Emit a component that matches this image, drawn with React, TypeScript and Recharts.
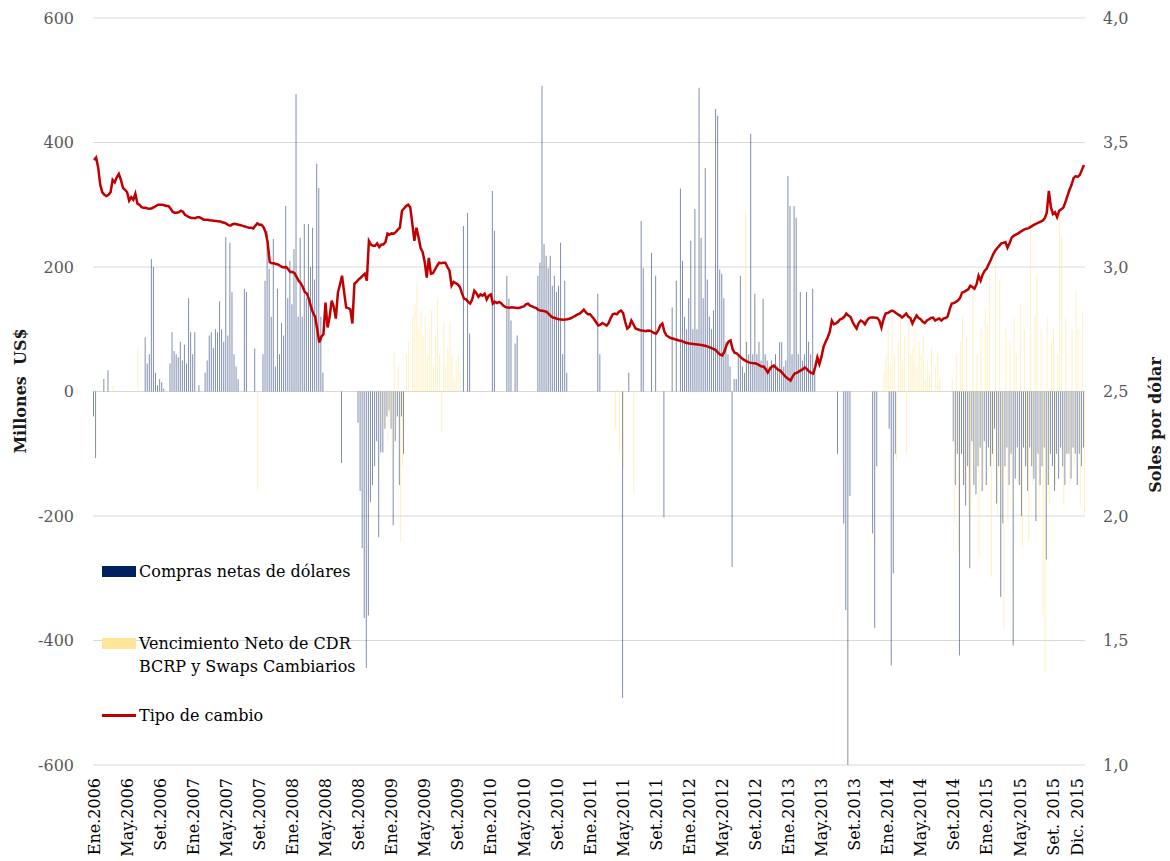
import { Bar, CartesianGrid, ComposedChart, Line, XAxis, YAxis } from "recharts";

// cuatro observaciones por mes (aprox. semanales), Ene.2006 - Dic.2015

const tc2006 = [
  3.43, 3.44, 3.40, 3.33, 3.30, 3.29, 3.285, 3.29, 3.30, 3.35, 3.34, 3.36,
  3.374, 3.35, 3.318, 3.31, 3.30, 3.266, 3.28, 3.27, 3.294, 3.254, 3.25, 3.24,
  3.238, 3.238, 3.235, 3.234, 3.236, 3.24, 3.245, 3.25, 3.25, 3.25, 3.248, 3.245,
  3.245, 3.235, 3.222, 3.218, 3.218, 3.22, 3.226, 3.222, 3.21, 3.205, 3.2, 3.197,
];
const tc2007 = [
  3.197, 3.196, 3.2, 3.2, 3.195, 3.19, 3.19, 3.19, 3.188, 3.187, 3.186, 3.185,
  3.184, 3.183, 3.18, 3.178, 3.174, 3.168, 3.166, 3.172, 3.174, 3.172, 3.17, 3.168,
  3.165, 3.163, 3.16, 3.158, 3.158, 3.155, 3.165, 3.175, 3.17, 3.17, 3.16, 3.14,
  3.10, 3.02, 3.015, 3.015, 3.012, 3.01, 3.005, 3.0, 2.998, 3.0, 2.99, 2.98,
];
const tc2008 = [
  2.98, 2.975, 2.96, 2.945, 2.935, 2.92, 2.90, 2.893, 2.87, 2.84, 2.815, 2.80,
  2.75, 2.697, 2.72, 2.73, 2.857, 2.757, 2.80, 2.865, 2.84, 2.793, 2.897, 2.93,
  2.965, 2.90, 2.837, 2.835, 2.83, 2.773, 2.933, 2.94, 2.95, 2.957, 2.965, 2.973,
  2.945, 3.105, 3.09, 3.085, 3.085, 3.095, 3.08, 3.09, 3.09, 3.10, 3.134, 3.13,
];
const tc2009 = [
  3.135, 3.134, 3.14, 3.15, 3.158, 3.226, 3.235, 3.245, 3.25, 3.24, 3.174, 3.105,
  3.158, 3.12, 3.077, 3.06, 3.02, 2.957, 3.037, 2.973, 2.975, 2.99, 3.005, 3.017,
  3.015, 3.017, 3.017, 3.0, 2.985, 2.925, 2.94, 2.935, 2.93, 2.92, 2.895, 2.873,
  2.87, 2.86, 2.853, 2.87, 2.905, 2.895, 2.88, 2.89, 2.885, 2.893, 2.87, 2.885,
];
const tc2010 = [
  2.89, 2.853, 2.86, 2.855, 2.86, 2.855, 2.845, 2.84, 2.837, 2.836, 2.838, 2.837,
  2.836, 2.835, 2.836, 2.84, 2.842, 2.85, 2.853, 2.845, 2.842, 2.838, 2.835, 2.828,
  2.825, 2.824, 2.822, 2.82, 2.812, 2.803, 2.797, 2.795, 2.792, 2.79, 2.789, 2.788,
  2.789, 2.79, 2.792, 2.795, 2.80, 2.805, 2.81, 2.813, 2.82, 2.829, 2.818, 2.81,
];
const tc2011 = [
  2.81, 2.80, 2.79, 2.777, 2.765, 2.768, 2.775, 2.77, 2.765, 2.775, 2.795, 2.81,
  2.813, 2.81, 2.82, 2.825, 2.815, 2.78, 2.753, 2.76, 2.785, 2.77, 2.753, 2.75,
  2.747, 2.745, 2.744, 2.742, 2.745, 2.744, 2.74, 2.735, 2.733, 2.745, 2.765, 2.773,
  2.74, 2.725, 2.72, 2.715, 2.713, 2.71, 2.708, 2.705, 2.704, 2.70, 2.697, 2.695,
];
const tc2012 = [
  2.693, 2.692, 2.691, 2.69, 2.689, 2.688, 2.687, 2.685, 2.683, 2.68, 2.677, 2.673,
  2.67, 2.665, 2.655, 2.648, 2.645, 2.66, 2.685, 2.70, 2.705, 2.67, 2.655, 2.653,
  2.645, 2.637, 2.63, 2.625, 2.62, 2.617, 2.615, 2.613, 2.613, 2.61, 2.605, 2.60,
  2.60, 2.59, 2.576, 2.59, 2.60, 2.604, 2.595, 2.588, 2.584, 2.575, 2.565, 2.556,
];
const tc2013 = [
  2.55, 2.544, 2.56, 2.572, 2.575, 2.58, 2.585, 2.59, 2.596, 2.59, 2.58, 2.575,
  2.572, 2.60, 2.637, 2.61, 2.64, 2.68, 2.70, 2.717, 2.74, 2.785, 2.77, 2.773,
  2.78, 2.79, 2.793, 2.80, 2.813, 2.805, 2.80, 2.78, 2.765, 2.753, 2.775, 2.785,
  2.78, 2.77, 2.785, 2.795, 2.797, 2.797, 2.796, 2.795, 2.785, 2.757, 2.79, 2.813,
];
const tc2014 = [
  2.815, 2.82, 2.825, 2.822, 2.815, 2.81, 2.805, 2.797, 2.805, 2.813, 2.80, 2.795,
  2.773, 2.79, 2.805, 2.795, 2.79, 2.78, 2.775, 2.785, 2.79, 2.795, 2.797, 2.785,
  2.79, 2.793, 2.785, 2.793, 2.795, 2.80, 2.83, 2.853, 2.855, 2.86, 2.865, 2.875,
  2.897, 2.90, 2.905, 2.91, 2.925, 2.92, 2.913, 2.93, 2.965, 2.945, 2.97, 2.985,
];
const tc2015 = [
  2.995, 3.013, 3.03, 3.05, 3.065, 3.075, 3.085, 3.095, 3.097, 3.10, 3.077, 3.095,
  3.118, 3.125, 3.13, 3.134, 3.14, 3.145, 3.15, 3.154, 3.155, 3.16, 3.165, 3.17,
  3.174, 3.178, 3.182, 3.186, 3.195, 3.218, 3.306, 3.24, 3.213, 3.22, 3.20, 3.226,
  3.232, 3.238, 3.26, 3.286, 3.31, 3.33, 3.358, 3.365, 3.362, 3.37, 3.39, 3.41,
];

const compras2006 = [
  -40, -107, 0, 0, 0, 20, 0, 34, 0, 0, 0, 0,
  0, 0, 0, 0, 0, 0, 0, 0, 0, 0, 0, 0,
  0, 87, 45, 60, 213, 200, 30, 10, 20, 15, 5, 0,
  0, 45, 95, 65, 60, 55, 80, 50, 75, 45, 150, 95,
];
const compras2007 = [
  60, 95, 0, 10, 0, 0, 30, 50, 90, 95, 70, 100,
  95, 145, 100, 80, 248, 90, 239, 160, 60, 40, 20, 0,
  0, 165, 160, 0, 0, 0, 69, 0, 0, 0, 60, 178,
  258, 197, 120, 245, 40, 165, 60, 110, 90, 298, 150, 210,
];
const compras2008 = [
  140, 229, 478, 120, 247, 120, 269, 150, 269, 200, 263, 180,
  366, 327, 120, 30, 0, 0, 0, 0, 0, 0, 0, 0,
  -115, 0, 0, 0, 0, 0, 0, 0, -50, -160, -252, -364,
  -444, -360, -178, -150, -120, -80, -234, -98, -98, -60, -40, -30,
];
const compras2009 = [
  -60, -215, -80, -40, -150, -40, -100, 0, 0, 0, 0, 0,
  0, 0, 0, 0, 0, 0, 0, 0, 0, 0, 0, 0,
  0, 0, 0, 0, 0, 0, 0, 0, 0, 0, 0, 266,
  0, 287, 93, 0, 0, 0, 0, 0, 0, 0, 0, 0,
];
const compras2010 = [
  0, 322, 258, 0, 0, 0, 0, 0, 186, 149, 114, 0,
  77, 90, 0, 0, 0, 0, 0, 0, 0, 0, 0, 186,
  207, 491, 237, 218, 198, 218, 170, 186, 160, 170, 239, 60,
  178, 30, 0, 0, 0, 0, 0, 0, 0, 0, 0, 0,
];
const compras2011 = [
  0, 0, 0, 0, 157, 60, 0, 0, 0, 0, 0, 0,
  0, 0, 0, 0, -492, 0, 0, 30, 0, 0, 0, 0,
  0, 274, 198, 0, 0, 0, 223, 0, 186, 0, 0, 0,
  -202, 0, 0, 0, 135, 0, 178, 0, 326, 210, 120, 100,
];
const compras2012 = [
  150, 242, 100, 293, 100, 488, 247, 150, 359, 180, 120, 100,
  130, 454, 443, 196, 189, 150, 80, 60, 40, -282, 20, 20,
  60, 186, 40, 30, 80, 60, 414, 60, 157, 60, 80, 50,
  149, 60, 50, 40, 50, 40, 60, 40, 79, 79, 40, 50,
];
const compras2013 = [
  346, 298, 60, 298, 279, 60, 160, 50, 60, 160, 80, 60,
  165, 40, 0, 0, 0, 0, 0, 0, 0, 0, 0, 0,
  -100, 0, 0, -212, -351, -600, -168, 0, 0, 0, 0, 0,
  0, 0, 0, 0, 0, -228, -380, -120, 0, 0, 0, 0,
];
const compras2014 = [
  0, -60, -440, -292, -100, 0, 0, 0, 0, 0, 0, 0,
  0, 0, 0, 0, 0, 0, 0, 0, 0, 0, 0, 0,
  0, 0, 0, 0, 0, 0, 0, 0, -80, -150, -100, -424,
  -100, -150, -183, -120, -284, -80, -150, -165, -120, -90, -160, -80,
];
const compras2015 = [
  -150, -90, -120, -100, -60, -180, -120, -330, -212, -120, -90, -150,
  -100, -408, -140, -90, -150, -200, -90, -120, -160, -90, -120, -140,
  -208, -100, -150, -120, -90, -270, -150, -100, -120, -160, -100, -140,
  -90, -120, -150, -100, -100, -140, -90, -100, -150, -100, -120, -90,
];

const venc2006 = [
  0, 0, 0, 0, 0, 0, 0, 0, 0, 10, 0, 0,
  0, 0, 0, 0, 0, 0, 0, 0, 0, 70, 0, 0,
  0, 0, 0, 0, 0, 0, 0, 0, 0, 0, 0, 0,
  0, 0, 0, 0, 0, 0, 0, 0, 0, 0, 0, 0,
];
const venc2007 = [
  0, 0, 0, 0, 0, 0, 0, 0, 0, 0, 0, 0,
  0, 0, 0, 0, 0, 0, 0, 0, 0, 0, 0, 0,
  0, 0, 0, 0, 0, 0, 0, -158, 0, 0, 0, 0,
  0, 0, 0, 0, 0, 0, 0, 0, 0, 0, 0, 0,
];
const venc2008 = [
  0, 0, 0, 0, 0, 0, 0, 0, 0, 0, 0, 0,
  0, 0, 0, 0, 0, 0, 0, 0, 0, 0, 0, 0,
  0, 0, 0, 0, 0, 0, 0, 0, 0, 0, 0, 0,
  0, 0, 0, 0, 0, 0, -50, 0, -60, 0, -80, -40,
];
const venc2009 = [
  -100, 65, -60, 40, -242, -120, 0, 60, 80, 0, 120, 141,
  173, 100, 130, 90, 120, 60, 100, 130, 40, 90, 150, 60,
  -66, 110, 40, 70, 110, 60, 20, 50, 60, 30, 0, 0,
  0, 0, 0, 0, 0, 0, 0, 0, 0, 0, 0, 0,
];
const venc2010 = [
  0, 0, 0, 0, 0, 0, 0, 0, 0, 0, 0, 0,
  0, 0, 0, 0, 0, 0, 0, 0, 0, 0, 0, 0,
  0, 0, 0, 0, 0, 0, 0, 0, 0, 0, 0, 0,
  0, 0, 0, 0, 0, 0, 0, 0, 0, 0, 0, 0,
];
const venc2011 = [
  0, 0, 0, 0, 0, 0, 0, 0, 0, 0, 0, 0,
  -60, 0, -100, 0, -124, 0, 0, 0, 0, -162, 0, 0,
  0, 0, 0, 0, 0, 0, 0, 0, 0, 0, 0, 0,
  0, 0, 0, 0, 0, 0, 0, 0, 0, 0, 0, 0,
];
const venc2012 = [
  0, 0, 0, 0, 0, 0, 0, 0, 0, 0, 0, 0,
  0, 0, 0, 0, 0, 0, 0, 0, 0, 0, 0, 0,
  0, 0, 0, 287, 0, 0, 0, 0, 0, 0, 0, 0,
  0, 0, 0, 0, 0, 0, 0, 0, 0, 0, 0, 0,
];
const venc2013 = [
  0, 0, 0, 0, 0, 0, 0, 0, 0, 0, 0, 0,
  0, 0, 0, 0, 0, 0, 0, 0, 0, 0, 0, 0,
  0, 0, 0, 0, 0, 0, 0, 0, 0, 0, 0, 0,
  0, 0, 0, 0, 0, 0, 0, 0, 0, 0, 30, 60,
];
const venc2014 = [
  100, 40, 130, 60, -110, 80, 120, 50, 90, -100, 110, 60,
  70, 100, 40, 80, 60, 90, 20, 50, 30, 70, 0, 40,
  60, 20, 0, 0, 0, 0, 0, 20, -212, 60, -260, 80,
  120, -150, 90, -200, -180, 167, -120, 60, -268, 100, -150, 130,
];
const venc2015 = [
  109, 183, -298, -120, 210, -200, 178, -150, -380, 100, -214, 80,
  -180, 120, 60, -150, 141, -250, 100, -120, -240, 287, -150, 120,
  189, -200, 100, -359, -451, 120, -180, 80, 100, -150, 60, 285,
  250, -183, 120, -100, -150, 100, -120, 160, 100, -183, 130, -200,
];

const tipoCambio = [
  ...tc2006, ...tc2007, ...tc2008, ...tc2009, ...tc2010,
  ...tc2011, ...tc2012, ...tc2013, ...tc2014, ...tc2015,
];
const compras = [
  ...compras2006, ...compras2007, ...compras2008, ...compras2009, ...compras2010,
  ...compras2011, ...compras2012, ...compras2013, ...compras2014, ...compras2015,
];
const vencimientos = [
  ...venc2006, ...venc2007, ...venc2008, ...venc2009, ...venc2010,
  ...venc2011, ...venc2012, ...venc2013, ...venc2014, ...venc2015,
];

// etiquetas del eje X y el mes (desde Ene.2006) en que caen
const etiquetasMes = [
  "Ene.2006", "May.2006", "Set.2006", "Ene.2007", "May.2007", "Set.2007",
  "Ene.2008", "May.2008", "Set.2008", "Ene.2009", "May.2009", "Set.2009",
  "Ene.2010", "May.2010", "Set.2010", "Ene.2011", "May.2011", "Set.2011",
  "Ene.2012", "May.2012", "Set.2012", "Ene.2013", "May.2013", "Set.2013",
  "Ene.2014", "May.2014", "Set.2014", "Ene.2015", "May.2015", "Set. 2015",
  "Dic. 2015",
];
const mesesEtiqueta = [
  0, 4, 8, 12, 16, 20, 24, 28, 32, 36, 40, 44, 48, 52, 56, 60, 64, 68,
  72, 76, 80, 84, 88, 92, 96, 100, 104, 108, 112, 116, 119,
];

const ticksIzq = [-600, -400, -200, 0, 200, 400, 600];
const ticksDer = [1, 1.5, 2, 2.5, 3, 3.5, 4];

const data = tipoCambio.map((tc, i) => ({
  i,
  tc,
  compras: compras[i],
  venc: vencimientos[i],
}));

const ticksX = mesesEtiqueta.map((m) => m * 4);
const etiquetaPorIndice: Record<number, string> = {};
mesesEtiqueta.forEach((m, k) => {
  etiquetaPorIndice[m * 4] = etiquetasMes[k];
});

const FONT = "'DejaVu Serif', serif";
const GRIS = "#595959";

function TickX({ x, y, payload }: any) {
  return (
    <g transform={`translate(${x},${y})`}>
      <text
        transform="rotate(-90)"
        x={-13}
        y={0}
        dy="0.35em"
        textAnchor="end"
        fill="#000"
        fontSize={16}
        fontFamily={FONT}
      >
        {etiquetaPorIndice[payload.value]}
      </text>
    </g>
  );
}

function LeyendaItem({ top, children, swatch }: any) {
  return (
    <div style={{ position: "absolute", left: 102, top, display: "flex", alignItems: "flex-start" }}>
      <div style={{ width: 34, marginRight: 3, marginTop: 6 }}>{swatch}</div>
      <div style={{ fontFamily: FONT, fontSize: 16, lineHeight: "23px", color: "#000" }}>{children}</div>
    </div>
  );
}

export default function App() {
  return (
    <div style={{ position: "absolute", left: 0, top: 0, width: 1170, height: 861, background: "#fff" }}>
      <ComposedChart
        width={1170}
        height={861}
        data={data}
        margin={{ top: 18, right: 0, bottom: 0, left: 0 }}
        barGap={0}
        barCategoryGap={0}
      >
        <CartesianGrid yAxisId="izq" vertical={false} stroke="#d9d9d9" strokeWidth={1.2} />
        <XAxis
          dataKey="i"
          ticks={ticksX}
          interval={0}
          height={96}
          axisLine={false}
          tickLine={false}
          tickSize={0}
          tickMargin={0}
          tick={<TickX />}
        />
        <YAxis
          yAxisId="izq"
          domain={[-600, 600]}
          ticks={ticksIzq}
          width={93}
          axisLine={false}
          tickLine={false}
          tickMargin={13}
          tick={{ fill: GRIS, fontSize: 16, fontFamily: FONT }}
        />
        <YAxis
          yAxisId="der"
          orientation="right"
          domain={[1, 4]}
          ticks={ticksDer}
          width={85}
          axisLine={false}
          tickLine={false}
          tickMargin={12}
          tickFormatter={(v: number) => v.toFixed(1).replace(".", ",")}
          tick={{ fill: GRIS, fontSize: 16, fontFamily: FONT }}
        />
        <Bar
          yAxisId="izq"
          dataKey="compras"
          fill="#002060"
          fillOpacity={0.5}
          barSize={1}
          isAnimationActive={false}
        />
        <Bar
          yAxisId="izq"
          dataKey="venc"
          fill="#FFE699"
          fillOpacity={0.6}
          barSize={1}
          isAnimationActive={false}
        />
        <Line
          yAxisId="der"
          dataKey="tc"
          type="linear"
          stroke="#C00000"
          strokeWidth={2.5}
          dot={false}
          activeDot={false}
          isAnimationActive={false}
        />
      </ComposedChart>

      <div
        style={{
          position: "absolute",
          left: 20,
          top: 391,
          transform: "translate(-50%, -50%) rotate(-90deg)",
          whiteSpace: "pre",
          fontFamily: FONT,
          fontWeight: "bold",
          fontSize: 16,
          color: "#1a1a1a",
        }}
      >
        {"Millones  US$"}
      </div>
      <div
        style={{
          position: "absolute",
          left: 1155,
          top: 425,
          transform: "translate(-50%, -50%) rotate(-90deg)",
          whiteSpace: "pre",
          fontFamily: FONT,
          fontWeight: "bold",
          fontSize: 16,
          color: "#1a1a1a",
        }}
      >
        Soles por dólar
      </div>

      <LeyendaItem top={560} swatch={<div style={{ height: 11, background: "#002060" }} />}>
        Compras netas de dólares
      </LeyendaItem>
      <LeyendaItem top={632} swatch={<div style={{ height: 11, background: "#FFE699" }} />}>
        Vencimiento Neto de CDR
        <br />
        BCRP y Swaps Cambiarios
      </LeyendaItem>
      <LeyendaItem
        top={704}
        swatch={<div style={{ height: 2.5, marginTop: 4, background: "#C00000" }} />}
      >
        Tipo de cambio
      </LeyendaItem>
    </div>
  );
}
